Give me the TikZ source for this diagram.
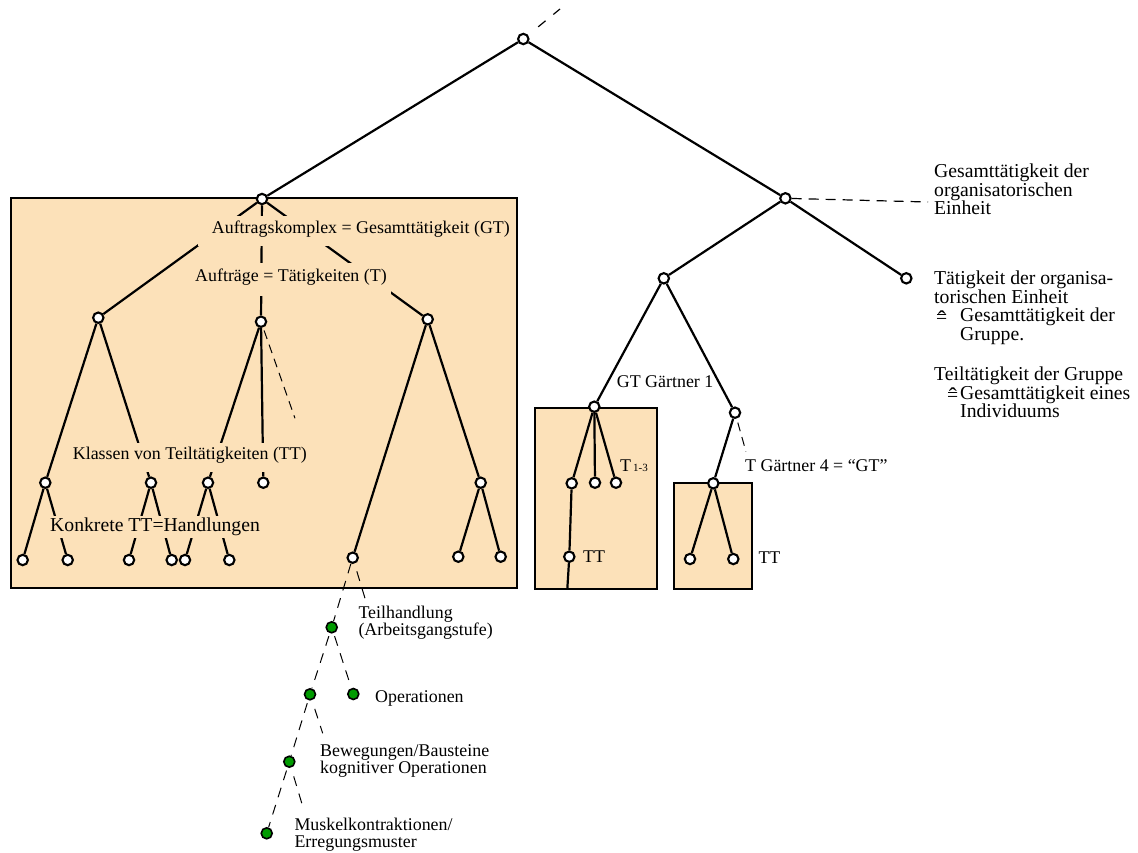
\documentclass[tikz,border=0pt]{standalone}
\usepackage{fontspec}
\setmainfont{Liberation Serif}
\definecolor{boxtan}{RGB}{252,225,185}
\definecolor{leafgreen}{RGB}{0,155,0}
\newcommand\lblsize{\fontsize{17.9}{17.5}\selectfont}
\newcommand\lblbigsize{\fontsize{19.7}{18.7}\selectfont}
% "corresponds to" sign: a circumflex set over an equals sign
\newcommand\corr{\smash{\ooalign{\hfil\raisebox{-5.5pt}{\fontsize{24}{24}\selectfont ˆ}\hfil\cr\raisebox{-2pt}{=}\cr}}}
\tikzset{
  vtx/.style={circle, draw, fill=white, line width=2.1pt, minimum size=10.4pt, inner sep=0pt},
  gvtx/.style={circle, draw, fill=leafgreen, line width=1.6pt, minimum size=11pt, inner sep=0pt},
  edge/.style={line width=2.2pt},
  dedge/.style={line width=1pt, dash pattern=on 9pt off 6pt},
  frame/.style={fill=boxtan, draw, line width=2pt},
  txt/.style={anchor=base west, inner sep=0pt, align=left, font=\lblsize},
  cover/.style={fill=boxtan, inner ysep=0pt, anchor=base west, font=\lblsize},
}
\begin{document}
\begin{tikzpicture}[x=1pt, y=-1pt]
\useasboundingbox (0,0) rectangle (1138,852);
\fill[white] (0,0) rectangle (1138,852);

% shaded frames
\draw[frame] (10.7,198.3) rectangle (516.7,588.3);
\draw[frame] (535,407.7) rectangle (656.7,589.3);
\draw[frame] (674,483.3) rectangle (751.7,589.3);

% vertices: left tree
\node[vtx] (root) at (523.3,39) {};
\node[vtx] (A)  at (262,199) {};
\node[vtx] (a1) at (98.3,317.7) {};
\node[vtx] (a2) at (261,321.7) {};
\node[vtx] (a3) at (427.7,319.3) {};
\node[vtx] (b1) at (45.3,482.7) {};
\node[vtx] (b2) at (151,482.7) {};
\node[vtx] (b3) at (208,482.7) {};
\node[vtx] (b4) at (263.3,482.7) {};
\node[vtx] (b5) at (480.7,482.7) {};
\node[vtx] (c1) at (352.7,557.7) {};
\node[vtx] (l1) at (22.7,560) {};
\node[vtx] (l2) at (67.7,560) {};
\node[vtx] (l3) at (129,560) {};
\node[vtx] (l4) at (171.7,560) {};
\node[vtx] (l5) at (185,560) {};
\node[vtx] (l6) at (229.3,560) {};
\node[vtx] (l7) at (458.3,556.7) {};
\node[vtx] (l8) at (500.7,556.7) {};

% vertices: right tree
\node[vtx] (B)  at (785.4,198.3) {};
\node[vtx] (C)  at (663.8,278.3) {};
\node[vtx] (D)  at (906.3,278.3) {};
\node[vtx] (E)  at (594.3,406.7) {};
\node[vtx] (F)  at (735,412.7) {};
\node[vtx] (e1) at (571.7,483.3) {};
\node[vtx] (e2) at (595,482.7) {};
\node[vtx] (e3) at (616,482.7) {};
\node[vtx] (e4) at (569.3,556.7) {};
\node[vtx] (G)  at (713.3,483.3) {};
\node[vtx] (g1) at (690,559) {};
\node[vtx] (g2) at (733.3,559) {};

% vertices: green chain
\node[gvtx] (gr1) at (331.7,627.3) {};
\node[gvtx] (gr2) at (310,694.3) {};
\node[gvtx] (gr2r) at (353.3,694) {};
\node[gvtx] (gr3) at (289.3,761.7) {};
\node[gvtx] (gr4) at (266.7,833.3) {};

% free ends of connectors
\coordinate (topend) at (560,9);
\coordinate (orgend) at (928,202);
\coordinate (a2end) at (295,418.3);
\coordinate (fend) at (746,451.7);
\coordinate (e4end) at (567.3,589.3);
\coordinate (c1end) at (365,598.3);
\coordinate (gr2end) at (322.7,733.3);
\coordinate (gr3end) at (303.3,808.3);

% solid connectors
\draw[edge] (root) -- (A);
\draw[edge] (root) -- (B);
\draw[edge] (A) -- (a1);
\draw[edge] (A) -- (a2);
\draw[edge] (A) -- (a3);
\draw[edge] (a1) -- (b1);
\draw[edge] (a1) -- (b2);
\draw[edge] (a2) -- (b3);
\draw[edge] (a2) -- (b4);
\draw[edge] (a3) -- (c1);
\draw[edge] (a3) -- (b5);
\draw[edge] (b1) -- (l1);
\draw[edge] (b1) -- (l2);
\draw[edge] (b2) -- (l3);
\draw[edge] (b2) -- (l4);
\draw[edge] (b3) -- (l5);
\draw[edge] (b3) -- (l6);
\draw[edge] (b5) -- (l7);
\draw[edge] (b5) -- (l8);
\draw[edge] (B) -- (C);
\draw[edge] (B) -- (D);
\draw[edge] (C) -- (E);
\draw[edge] (C) -- (F);
\draw[edge] (E) -- (e1);
\draw[edge] (E) -- (e2);
\draw[edge] (E) -- (e3);
\draw[edge] (e1) -- (e4);
\draw[edge] (e4) -- (e4end);
\draw[edge] (F) -- (G);
\draw[edge] (G) -- (g1);
\draw[edge] (G) -- (g2);

% dashed connectors
\draw[line width=1.2pt, dash pattern=on 9.5pt off 10pt, dash phase=9.5pt, shorten <=3pt] (root) -- (topend);
\draw[line width=1.2pt, dash pattern=on 10pt off 7pt] (B) -- (orgend);
\draw[dedge, shorten <=3pt] (a2) -- (a2end);
\draw[dedge, shorten <=4pt] (F) -- (fend);
\draw[dedge, dash pattern=on 10pt off 8pt] (c1) -- (gr1);
\draw[dedge, dash pattern=on 10pt off 8pt, shorten <=8pt] (c1) -- (c1end);
\draw[dedge, dash pattern=on 10pt off 8pt, shorten <=3pt] (gr1) -- (gr2);
\draw[dedge, dash pattern=on 10pt off 8pt, shorten <=3pt, shorten >=4pt] (gr1) -- (gr2r);
\draw[dedge, dash pattern=on 10pt off 8pt, shorten <=3pt] (gr2) -- (gr3);
\draw[dedge, dash pattern=on 10pt off 8pt, shorten <=9pt] (gr2) -- (gr2end);
\draw[dedge, dash pattern=on 10pt off 8pt, shorten <=3pt] (gr3) -- (gr4);
\draw[dedge, dash pattern=on 10pt off 8pt, shorten <=9pt] (gr3) -- (gr3end);

% labels set on the shaded frame, hiding the connectors behind them
\node[cover, inner xsep=4pt, text height=17.3pt, text depth=12.2pt] (gtlbl) at (197.7,233.3) {\hspace*{10pt}Auftragskomplex = Gesamttätigkeit (GT)};
\node[cover, inner xsep=4pt, text height=18.7pt, text depth=14.3pt] (tlbl) at (191,281.7) {Aufträge = Tätigkeiten (T)};
\node[cover, inner xsep=3pt, text height=16.3pt, text depth=12.7pt] (ttlbl) at (69.7,459.3) {Klassen von Teiltätigkeiten (TT)};
\node[cover, inner xsep=2pt, text height=15.7pt, text depth=6.6pt, font=\lblbigsize] (hlbl) at (48,531.7) {Konkrete TT=Handlungen};

% labels of the right tree
\node[txt] (gt1) at (616.7,387.3) {GT Gärtner 1};
\node[txt] (t13) at (620,471) {T\hspace{2pt}{\fontsize{11}{11}\selectfont 1-3}};
\node[txt] (tt1) at (583,562.7) {TT};
\node[txt] (tt2) at (758.3,563.3) {TT};
\node[txt] (gt4) at (745,471) {T Gärtner 4 = “GT”};

% explanations at the right (anchored at the baseline of their last line)
\node[txt, font=\lblbigsize] (orgunit) at (934,214.7) {Gesamttätigkeit der\\organisatorischen\\Einheit};
\node[txt, font=\lblbigsize] (orgact) at (934,340.4) {Tätigkeit der organisa-\\torischen Einheit\\\makebox[26pt][l]{\hspace*{2pt}\corr}Gesamttätigkeit der\\\hspace*{26pt}Gruppe.};
\node[txt, font=\lblbigsize] (partact) at (934,417.7) {Teiltätigkeit der Gruppe\\\makebox[26pt][l]{\hspace*{13pt}\corr}Gesamttätigkeit eines\\\hspace*{26pt}Individuums};

% labels of the green chain (anchored at the baseline of their last line)
\node[txt] (subact) at (358.3,635.7) {Teilhandlung\\(Arbeitsgangstufe)};
\node[txt] (ops) at (375,702.3) {Operationen};
\node[txt] (moves) at (320,773.5) {Bewegungen/Bausteine\\kognitiver Operationen};
\node[txt] (muscle) at (294.3,847.5) {Muskelkontraktionen/\\Erregungsmuster};
\end{tikzpicture}
\end{document}
